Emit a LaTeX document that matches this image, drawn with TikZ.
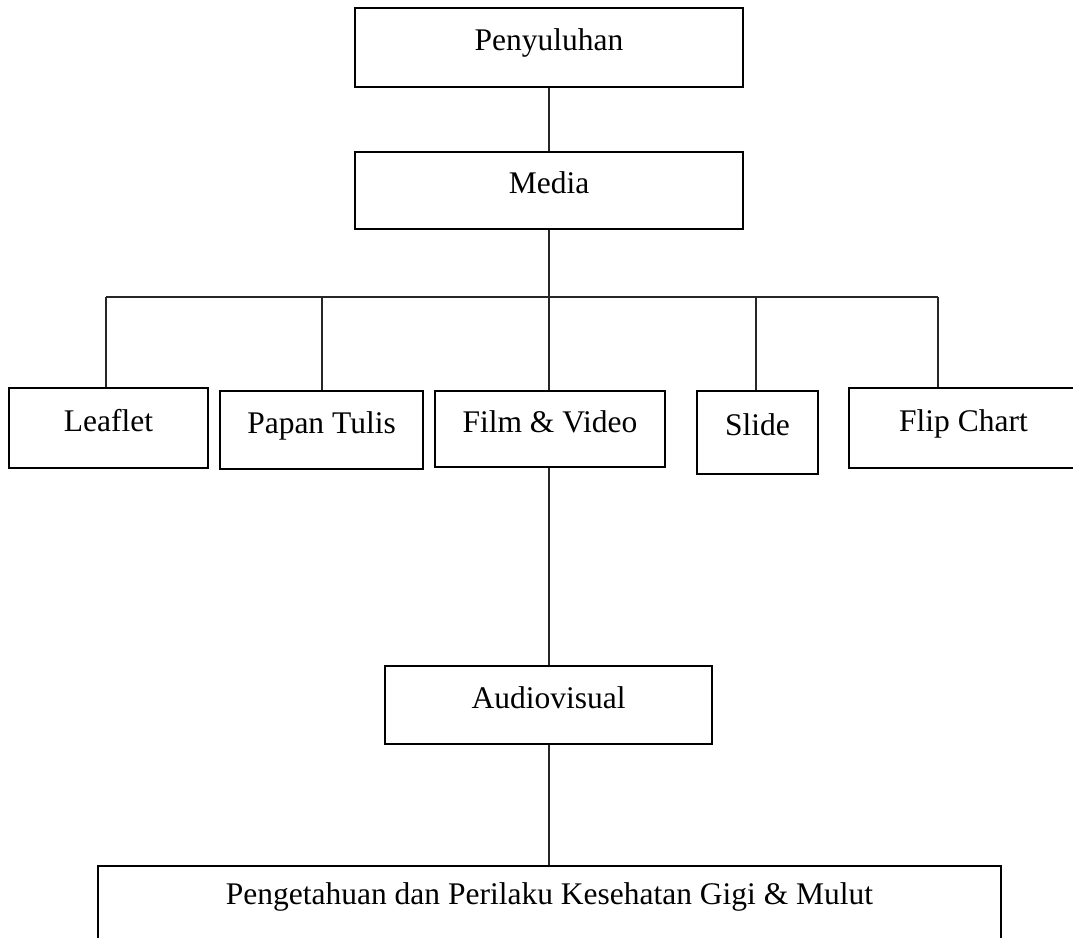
\documentclass[tikz,border=0pt]{standalone}
\usepackage{fontspec}
\setmainfont{Liberation Serif}
\begin{document}
\begin{tikzpicture}[x=1pt,y=-1pt,
  box/.style={draw=black, line width=2.2pt, rectangle, inner sep=0pt,
    text height=6pt, text depth=0pt,
    font=\fontsize{31.5}{38}\selectfont},
  conn/.style={draw=black!85, line width=1.1pt}]
\useasboundingbox (0,0) rectangle (1073,937);
\clip (0,0) rectangle (1073,937);
\node[box, minimum width=388pt, minimum height=79pt] (pen) at (549,47.5) {Penyuluhan};
\node[box, minimum width=388pt, minimum height=77pt] (media) at (549,190.5) {Media};
\node[box, minimum width=199pt, minimum height=80pt] (leaf) at (108.5,428) {Leaflet};
\node[box, minimum width=203pt, minimum height=78pt] (papan) at (321.5,430) {Papan Tulis};
\node[box, minimum width=230pt, minimum height=76pt] (film) at (550,429) {Film \& Video};
\node[box, minimum width=121pt, minimum height=83pt] (slide) at (757.5,432.5) {Slide};
\node[box, minimum width=229pt, minimum height=80pt] (flip) at (963.5,428) {Flip Chart};
\node[box, minimum width=327pt, minimum height=78pt] (audio) at (548.5,705) {Audiovisual};
\node[box, minimum width=903pt, minimum height=90pt, text height=0pt, text depth=14pt] (peng) at (549.5,911) {Pengetahuan dan Perilaku Kesehatan Gigi \& Mulut};
\coordinate (busL) at (106,297);
\coordinate (busR) at (938,297);
\coordinate (busP) at (322,297);
\coordinate (busS) at (756,297);
\draw[conn] (pen.south) -- (media.north);
\draw[conn] (busL) -- (busR);
\draw[conn] (media.south) -- (media.south |- film.north);
\draw[conn] (busL) -- (busL |- leaf.north);
\draw[conn] (busP) -- (busP |- papan.north);
\draw[conn] (busS) -- (busS |- slide.north);
\draw[conn] (busR) -- (busR |- flip.north);
\draw[conn] (film.south -| media.south) -- (audio.north -| media.south);
\draw[conn] (audio.south -| media.south) -- (peng.north -| media.south);
\end{tikzpicture}
\end{document}
